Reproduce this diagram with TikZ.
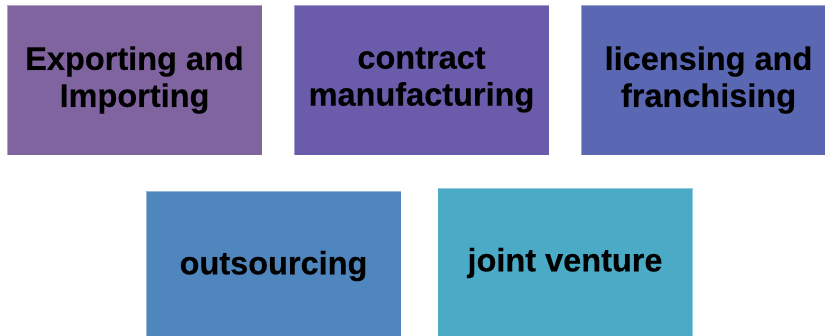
\documentclass[tikz,border=0pt]{standalone}
\usepackage{fontspec}
\setmainfont{Liberation Sans}[BoldFeatures={FakeBold=1.2}]
\usetikzlibrary{positioning}
\definecolor{boxA}{RGB}{128,100,160}
\definecolor{boxB}{RGB}{106,92,170}
\definecolor{boxC}{RGB}{90,104,180}
\definecolor{boxD}{RGB}{80,134,190}
\definecolor{boxE}{RGB}{75,171,198}
\begin{document}
\begin{tikzpicture}[x=1pt,y=-1pt]
\tikzstyle{mode} = [draw=white,draw opacity=0.4,line width=0.5pt,shape=rectangle,minimum width=255pt,minimum height=150pt,inner sep=0pt,align=center,font=\bfseries\fontsize{32.5}{37}\selectfont]
\useasboundingbox (0,0) rectangle (825,336);
\node[mode,fill=boxA] (export) at (134.5,80)  {Exporting and\\Importing} ;
\node[mode,fill=boxB] (contract) at (421.5,80)  {contract\\manufacturing} ;
\node[mode,fill=boxC] (licence) at (708.5,80)  {licensing and\\franchising} ;
\node[mode,fill=boxD] (outsource) at (273.5,266)  {outsourcing} ;
\node[mode,fill=boxE] (venture) at (565,263)  {joint venture} ;
\end{tikzpicture}
\end{document}
